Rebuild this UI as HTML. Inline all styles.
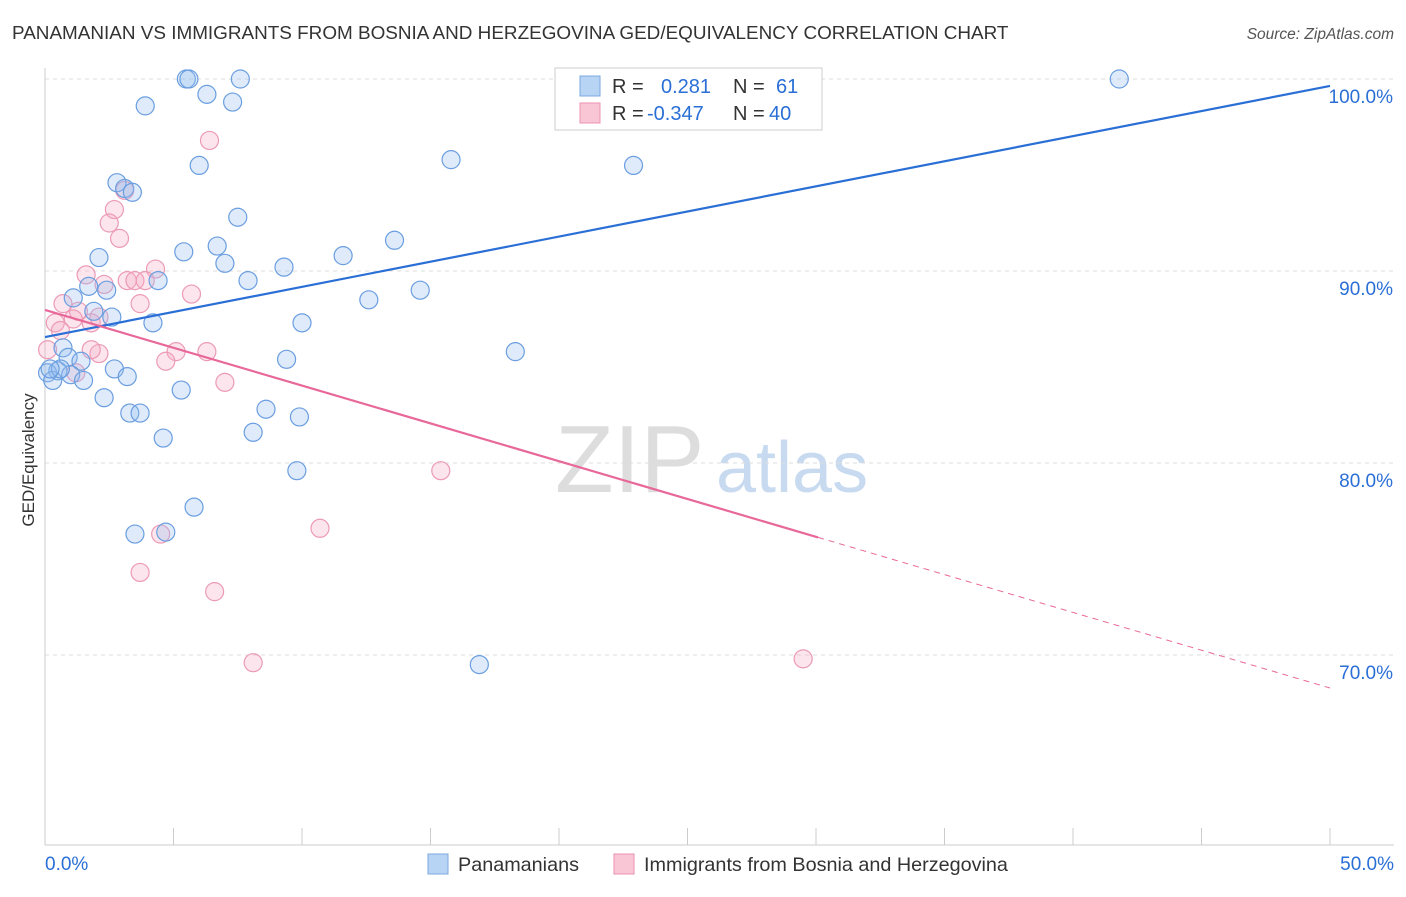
<!DOCTYPE html>
<html><head><meta charset="utf-8"><style>
body{margin:0;background:#fff;font-family:"Liberation Sans",sans-serif}
svg text{font-family:"Liberation Sans",sans-serif}
</style></head><body>
<svg id="chart" width="1406" height="892" xmlns="http://www.w3.org/2000/svg">
<text x="12" y="39" font-size="18.9" fill="#333">PANAMANIAN VS IMMIGRANTS FROM BOSNIA AND HERZEGOVINA GED/EQUIVALENCY CORRELATION CHART</text>
<text x="1394" y="39" font-size="15.5" fill="#555" text-anchor="end" font-style="italic">Source: ZipAtlas.com</text>
<text transform="translate(34,460) rotate(-90)" font-size="17" fill="#333" text-anchor="middle">GED/Equivalency</text>
<text x="555" y="492" font-size="96" fill="#ddd" font-family="Liberation Serif">ZIP</text>
<text x="716" y="492" font-size="72" fill="#c8daf0">atlas</text>
<g id="grid"></g><g id="marks"></g>
<g>
<rect x="555" y="68" width="267" height="62" fill="#fff" stroke="#ccc"/>
<rect x="580" y="76" width="20" height="20" fill="#b8d4f5" stroke="#7aa8e0"/>
<rect x="580" y="103" width="20" height="20" fill="#f9c6d6" stroke="#eb93b0"/>
<text x="612" y="93" font-size="20" fill="#333">R = <tspan fill="#2a6fd6" x="661">0.281</tspan><tspan x="733" fill="#333">N =</tspan><tspan x="776" fill="#2a6fd6">61</tspan></text>
<text x="612" y="120" font-size="20" fill="#333">R = <tspan fill="#2a6fd6" x="647">-0.347</tspan><tspan x="733" fill="#333">N =</tspan><tspan x="769" fill="#2a6fd6">40</tspan></text>
</g>
<g>
<rect x="428" y="854" width="20" height="20" fill="#b8d4f5" stroke="#7aa8e0"/>
<text x="458" y="871" font-size="19.8" fill="#333">Panamanians</text>
<rect x="614" y="854" width="20" height="20" fill="#f9c6d6" stroke="#eb93b0"/>
<text x="644" y="871" font-size="19.8" fill="#333">Immigrants from Bosnia and Herzegovina</text>
</g>
</svg>
<script>
const xTicks=[0,5,10,15,20,25,30,35,40,45,50];
const yTicks=[70,80,90,100];
const blueX=[5.5,5.6,7.6,3.9,6.3,7.3,41.8,23.2,15.8,22.9,6.0,2.8,3.1,3.4,7.5,13.6,6.7,5.4,2.1,7.0,9.3,11.6,7.9,4.4,1.7,2.4,1.1,12.6,14.6,1.9,2.6,4.2,10.0,0.7,18.3,0.9,9.4,1.4,2.7,0.5,0.1,1.0,3.2,0.3,1.5,5.3,2.3,8.6,3.3,3.7,9.9,8.1,4.6,9.8,5.8,3.5,4.7,16.9,0.6,0.2];
const blueY=[100,100,100,98.6,99.2,98.8,100,100,95.8,95.5,95.5,94.6,94.3,94.1,92.8,91.6,91.3,91.0,90.7,90.4,90.2,90.8,89.5,89.5,89.2,89.0,88.6,88.5,89.0,87.9,87.6,87.3,87.3,86.0,85.8,85.5,85.4,85.3,84.9,84.8,84.7,84.6,84.5,84.3,84.3,83.8,83.4,82.8,82.6,82.6,82.4,81.6,81.3,79.6,77.7,76.3,76.4,69.5,84.9,84.9];
const pinkX=[20.6,6.4,3.1,2.7,2.5,2.9,1.6,4.3,3.2,3.5,3.9,2.3,5.7,3.7,0.7,1.3,1.1,1.8,0.4,0.6,2.1,5.1,6.3,1.8,4.7,1.2,7.0,15.4,10.7,4.5,3.7,6.6,8.1,29.5,0.1,2.1];
const pinkY=[98.9,96.8,94.2,93.2,92.5,91.7,89.8,90.1,89.5,89.5,89.5,89.3,88.8,88.3,88.3,87.9,87.5,87.3,87.3,86.9,85.7,85.8,85.8,85.9,85.3,84.7,84.2,79.6,76.6,76.3,74.3,73.3,69.6,69.8,85.9,87.6];
const blueTrend=[86.56,99.64];
const pinkTrend=[87.97,68.28];const pinkSolidEnd=30.08;
const X=v=>45+v*25.7, Y=v=>79+(100-v)*19.2;
const NS="http://www.w3.org/2000/svg";
function mk(t,a,p){const e=document.createElementNS(NS,t);for(const k in a)e.setAttribute(k,a[k]);p.appendChild(e);return e;}
const grid=document.getElementById('grid'),marks=document.getElementById('marks');
yTicks.forEach(t=>{
 const l=mk('line',{x1:45,x2:1394,y1:Y(t),y2:Y(t),stroke:'#ddd','stroke-dasharray':'4,4'},grid);
 
 
 const tx=mk('text',{x:1393,y:Y(t)+24,'font-size':19,fill:'#2a6fd6','text-anchor':'end'},grid);tx.textContent=t.toFixed(1)+'%';
 
 
});
const ax=mk('line',{x1:45,x2:1394,y1:845,y2:845,stroke:'#ccc'},grid);


const ay=mk('line',{x1:45,x2:45,y1:68,y2:845,stroke:'#ccc'},grid);


xTicks.forEach(t=>{const l=mk('line',{x1:X(t),x2:X(t),y1:828,y2:845,stroke:'#ccc'},grid);
 
 });
[[0,'start',45],[50,'end',1394]].forEach(([t,a,x])=>{const tx=mk('text',{x:x,y:870,'font-size':19,fill:'#2a6fd6','text-anchor':a},grid);tx.textContent=t.toFixed(1)+'%';
 
 });
pinkX.forEach((v,i)=>{const c=mk('circle',{cx:X(v),cy:Y(pinkY[i]),r:9,fill:'rgba(246,170,196,0.3)',stroke:'#ec9ab6','stroke-width':1.2},marks);
 
 });
blueX.forEach((v,i)=>{const c=mk('circle',{cx:X(v),cy:Y(blueY[i]),r:9,fill:'rgba(150,190,240,0.3)',stroke:'#6a9ee0','stroke-width':1.2},marks);
 
 });
const pAt=x=>pinkTrend[0]+(pinkTrend[1]-pinkTrend[0])*x/50;
const bl=mk('line',{x1:X(0),y1:Y(blueTrend[0]),x2:X(50),y2:Y(blueTrend[1]),stroke:'#2a6fd6','stroke-width':2.2},marks);


const pl=mk('line',{x1:X(0),y1:Y(pAt(0)),x2:X(pinkSolidEnd),y2:Y(pAt(pinkSolidEnd)),stroke:'#e8689a','stroke-width':2.2},marks);


const pd=mk('line',{x1:X(pinkSolidEnd),y1:Y(pAt(pinkSolidEnd)),x2:X(50),y2:Y(pAt(50)),stroke:'#e8689a','stroke-width':1,'stroke-dasharray':'6,5'},marks);


</script>
</body></html>
